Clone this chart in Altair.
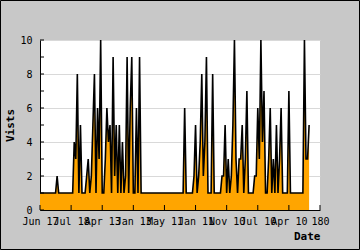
import altair as alt
import pandas as pd

# visits per index
visits = [
    1, 1, 1, 1, 1, 1, 1, 1, 1, 1,   # 0-9
    1, 2, 1, 1, 1, 1, 1, 1, 1, 1,   # 10-19
    1, 1, 4, 3, 8, 1, 5, 1, 1, 1,   # 20-29
    2, 3, 1, 2, 5, 8, 1, 6, 3, 10,  # 30-39
    1, 1, 3, 6, 4, 5, 1, 9, 2, 5,   # 40-49
    1, 5, 1, 4, 1, 2, 9, 1, 6, 9,   # 50-59
    1, 1, 6, 1, 9, 1, 1, 1, 1, 1,   # 60-69
    1, 1, 1, 1, 1, 1, 1, 1, 1, 1,   # 70-79
    1, 1, 1, 1, 1, 1, 1, 1, 1, 1,   # 80-89
    1, 1, 1, 6, 1, 1, 1, 1, 1, 2,   # 90-99
    5, 1, 2, 4, 8, 2, 4, 9, 1, 1,   # 100-109
    1, 8, 1, 1, 1, 1, 1, 2, 2, 5,   # 110-119
    1, 3, 1, 2, 5, 10, 3, 1, 3, 3,  # 120-129
    5, 1, 3, 7, 1, 1, 1, 1, 2, 2,   # 130-139
    6, 3, 10, 4, 7, 1, 1, 3, 6, 1,  # 140-149
    3, 1, 5, 1, 3, 6, 1, 1, 1, 1,   # 150-159
    7, 1, 1, 1, 1, 1, 1, 1, 1, 1,   # 160-169
    10, 3, 3, 5,                    # 170-173
]
index = list(range(len(visits)))

tick_positions = [0, 20, 40, 60, 80, 100, 120, 140, 160, 180]
tick_labels = ["Jun 17", "Jul 18", "Apr 13", "Jan 13", "May 11",
               "Jan 11", "Nov 10", "Jul 10", "Apr 10", "180"]
y_label_values = [0, 2, 4, 6, 8, 10]
y_ticks = [0, 1, 2, 3, 4, 5, 6, 7, 8, 9, 10]

df = pd.DataFrame({"i": index, "v": visits})
df_xt = pd.DataFrame({"t": tick_positions})
df_yt = pd.DataFrame({"t": y_ticks})

FONT = "DejaVu Sans Mono"
label_expr = "[" + ",".join("'%s'" % s for s in tick_labels) + "][round(datum.value/20)]"

xscale = alt.Scale(domain=[0, 180], nice=False, zero=True)
yscale = alt.Scale(domain=[0, 10], nice=False)

xaxis = alt.Axis(values=tick_positions, labelExpr=label_expr, labelOverlap=False,
                 labelFlush=False, labelBound=False, tickSize=0, labelPadding=6,
                 grid=False, domainColor="black", labelColor="black",
                 labelFont=FONT, labelFontSize=10, title="Date",
                 titleFont=FONT, titleFontSize=11, titleFontWeight="bold",
                 titleColor="black", titleAlign="right", titleAnchor="end",
                 titleX=280, titleY=29, titleBaseline="alphabetic")
yaxis = alt.Axis(values=y_label_values, tickSize=0, labelPadding=8, labelOverlap=False,
                 grid=True, gridColor="#d9d9d9", domainColor="black",
                 labelColor="black", labelFont=FONT, labelFontSize=10,
                 title="Vists", titleFont=FONT, titleFontSize=11,
                 titleFontWeight="bold", titleColor="black",
                 titleX=-30, titleY=85, titleBaseline="middle", titleAngle=-90)

base = alt.Chart(df)
area = base.mark_area(color="#ffa500", opacity=1).encode(
    x=alt.X("i:Q", scale=xscale, axis=xaxis),
    y=alt.Y("v:Q", scale=yscale, axis=yaxis),
)
line = base.mark_line(color="black", strokeWidth=1.6).encode(
    x=alt.X("i:Q", scale=xscale, axis=xaxis),
    y=alt.Y("v:Q", scale=yscale, axis=yaxis),
)
xt = alt.Chart(df_xt).mark_rule(color="black", strokeWidth=1).encode(
    x=alt.X("t:Q", scale=xscale, axis=xaxis),
    y=alt.value(165), y2=alt.value(170),
)
yt = alt.Chart(df_yt).mark_rule(color="black", strokeWidth=1).encode(
    y=alt.Y("t:Q", scale=yscale, axis=yaxis),
    x=alt.value(0), x2=alt.value(4),
)
frame = alt.Chart(df_xt.head(1)).mark_rect(fill=None, stroke="black", strokeWidth=1).encode(
    x=alt.value(-39.5), x2=alt.value(319.5), y=alt.value(-39.5), y2=alt.value(209.5),
)

chart = alt.layer(area, line, xt, yt, frame).properties(
    width=280, height=170,
    autosize=alt.AutoSizeParams(type="none"),
    padding={"left": 40, "top": 40, "right": 40, "bottom": 40},
    background="#c8c8c8",
).configure_view(fill="white", stroke=None).configure_axis(labelOverlap=False)

chart.save("out.html", embed_options={"renderer": "svg", "actions": False})
